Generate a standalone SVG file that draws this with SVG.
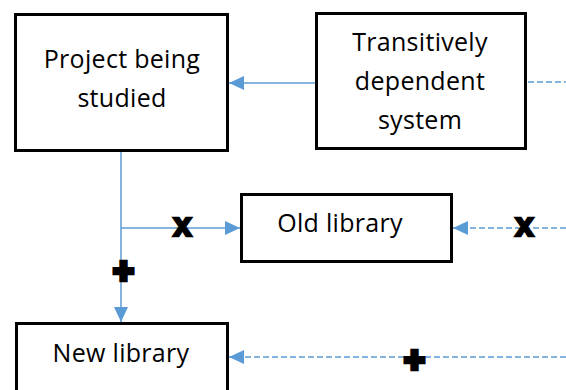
<svg xmlns="http://www.w3.org/2000/svg" width="566" height="390" viewBox="0 0 566 390">
<style>
.box{fill:#fff;stroke:#000;stroke-width:3}
.lbl{font-family:"Open Sans","Liberation Sans",sans-serif;font-size:25px;fill:#000;text-anchor:middle;letter-spacing:0.3px}
.ln{stroke:#5B9BD5;stroke-width:1.5;fill:none}
.dash{stroke-dasharray:6 3}
.sym{font-family:"Liberation Sans",Arial,sans-serif;font-weight:bold;fill:#000;stroke:#000;text-anchor:middle;stroke-linejoin:miter}
</style>
<defs>
<marker id="ah" viewBox="0 0 15 14" refX="15" refY="7" markerWidth="15" markerHeight="14" markerUnits="userSpaceOnUse" orient="auto">
<path d="M0,0 L15,7 L0,14 z" fill="#5B9BD5"/>
</marker>
</defs>
<rect width="566" height="390" fill="#fff"/>
<g id="connectors">
<line class="ln" x1="315" y1="83" x2="229" y2="83" marker-end="url(#ah)"/>
<line class="ln dash" x1="528" y1="82" x2="566" y2="82"/>
<line class="ln" x1="121" y1="152" x2="121" y2="322" marker-end="url(#ah)"/>
<line class="ln" x1="121" y1="228" x2="240" y2="228" marker-end="url(#ah)"/>
<line class="ln dash" x1="566" y1="228" x2="453" y2="228" marker-end="url(#ah)"/>
<line class="ln dash" x1="566" y1="357" x2="229" y2="357" marker-end="url(#ah)"/>
<text class="sym" x="182.5" y="236" font-size="33" stroke-width="2.5">x</text>
<text class="sym" x="524.5" y="236" font-size="33" stroke-width="2.5">x</text>
<text class="sym" x="123.5" y="282.5" font-size="35" stroke-width="4.5">+</text>
<text class="sym" x="414.5" y="372" font-size="35" stroke-width="4.5">+</text>
</g>
<g id="project">
<rect class="box" x="15.5" y="14.5" width="212" height="136"/>
<text class="lbl" x="122" y="68">Project being</text>
<text class="lbl" x="122" y="107">studied</text>
</g>
<g id="transitive">
<rect class="box" x="316.5" y="13.5" width="209" height="135"/>
<text class="lbl" x="420" y="51">Transitively</text>
<text class="lbl" x="420" y="90">dependent</text>
<text class="lbl" x="420" y="129">system</text>
</g>
<g id="oldlib">
<rect class="box" x="241.5" y="194.5" width="210" height="67"/>
<text class="lbl" x="340" y="232">Old library</text>
</g>
<g id="newlib">
<rect class="box" x="16.5" y="323.5" width="211" height="80"/>
<text class="lbl" x="121" y="362">New library</text>
</g>
</svg>
